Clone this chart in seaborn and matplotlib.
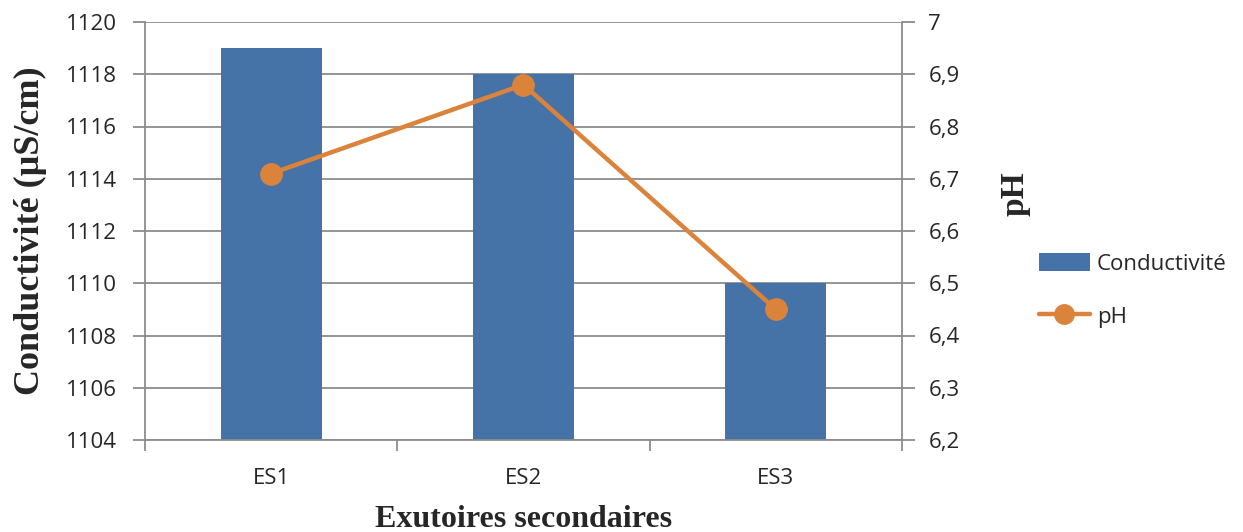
import matplotlib
matplotlib.use("Agg")
import matplotlib.pyplot as plt
from matplotlib.lines import Line2D
from matplotlib.patches import Patch
import seaborn as sns
import pandas as pd

sites = ["ES1", "ES2", "ES3"]
conductivity = [1119, 1118, 1110]
ph_values = [6.71, 6.88, 6.45]
cond_ticks = [1104, 1106, 1108, 1110, 1112, 1114, 1116, 1118, 1120]
ph_ticks = [6.2, 6.3, 6.4, 6.5, 6.6, 6.7, 6.8, 6.9, 7.0]

BAR_BLUE = "#4572A7"
LINE_ORANGE = "#DC833B"
AXIS_GREY = "#8C8C8C"

sns.set_theme(style="white")
plt.rcParams["font.family"] = ["Open Sans", "DejaVu Sans"]

df = pd.DataFrame({"site": sites, "cond": conductivity, "ph": ph_values})

fig = plt.figure(figsize=(12.43, 5.32), dpi=100)
ax = fig.add_axes([145 / 1243, 1 - 440 / 532, (902 - 145) / 1243, (440 - 22) / 532])

sns.barplot(data=df, x="site", y="cond", ax=ax, color=BAR_BLUE, width=0.4,
            saturation=1, edgecolor="none")
ax.set_ylim(1104, 1120)
ax.set_yticks(cond_ticks)
ax.set_yticklabels([str(t) for t in cond_ticks])
ax.set_xlim(-0.5, 2.5)
ax.yaxis.grid(True, color=AXIS_GREY, linewidth=1.3)
ax.set_axisbelow(True)

ax2 = ax.twinx()
sns.pointplot(data=df, x="site", y="ph", ax=ax2, color=LINE_ORANGE,
              markers="o", markersize=14, linewidth=3.2)
ax2.set_ylim(6.2, 7.0)
ax2.set_yticks(ph_ticks)
ax2.set_yticklabels([f"{t:.1f}".replace(".", ",").replace("7,0", "7") for t in ph_ticks])
ax2.set_xlim(-0.5, 2.5)

for a in (ax, ax2):
    a.spines["top"].set_visible(False)
    for side in ("left", "right", "bottom"):
        a.spines[side].set_color(AXIS_GREY)
        a.spines[side].set_linewidth(1.3)
ax.spines["right"].set_visible(False)
ax2.spines["left"].set_visible(False)
ax2.spines["bottom"].set_visible(False)

tick_font = 16
ax.tick_params(axis="y", which="major", direction="out", length=9, width=1.3,
               color=AXIS_GREY, labelsize=tick_font, pad=11, left=True)
ax2.tick_params(axis="y", which="major", direction="out", length=9, width=1.3,
                color=AXIS_GREY, labelsize=tick_font, pad=10, right=True)
ax.set_xticks([-0.5, 0.5, 1.5, 2.5], minor=True)
ax.tick_params(axis="x", which="minor", direction="out", length=8, width=1.3,
               color=AXIS_GREY, bottom=True)
ax.tick_params(axis="x", which="major", length=0, labelsize=tick_font, pad=20)

serif = dict(family="Liberation Serif", weight="bold")
ax.set_xlabel("Exutoires secondaires", labelpad=12, size=23, **serif)
ax.set_ylabel("Conductivité (µS/cm)", labelpad=14, size=26, **serif)
ax2.set_ylabel("pH", size=24, **serif)
ax2.yaxis.set_label_coords((1000 - 145) / 757, (440 - 194) / 418)

handles = [
    Patch(facecolor=BAR_BLUE, edgecolor="none", label="Conductivité"),
    Line2D([], [], color=LINE_ORANGE, linewidth=3.2, marker="o", markersize=14,
           label="pH"),
]
fig.legend(handles=handles, loc="upper left", bbox_to_anchor=(1030 / 1243, 1 - 244 / 532),
           frameon=False, fontsize=tick_font, handlelength=2.3, handleheight=0.9,
           labelspacing=1.4, handletextpad=0.3, borderaxespad=0)

fig.savefig("out.png", dpi=100)
